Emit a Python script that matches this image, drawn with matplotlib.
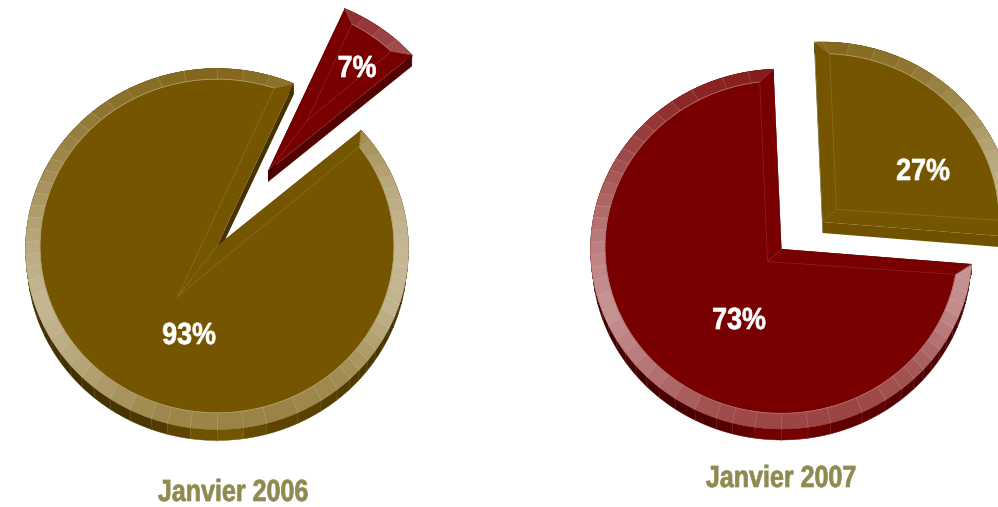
import numpy as np
import matplotlib
matplotlib.use("Agg")
import matplotlib.pyplot as plt
from matplotlib.colors import to_rgb
from matplotlib.patches import Polygon
from matplotlib.patheffects import AbstractPathEffect
from matplotlib.transforms import Affine2D

# share of the detached slice, then the rest of the pie
titles = ["Janvier 2006", "Janvier 2007"]
detached_share = [7, 27]
main_share = [93, 73]
detached_color = ["#780000", "#755500"]
main_color = ["#755500", "#780000"]

# layout, in pixels of the output image
centers = [(217, 249), (781.5, 249)]
radii = [(191.5, 180.5), (191, 180)]
start_angles = [41.2, -4.8]
explode = [(51, -75), (41, -27)]
apex_shift = [-3, 0]
arc_shift = [-3, -2]
detached_label_pos = [(357, 69), (923, 172)]
main_label_pos = [(189, 336), (739, 321)]
title_pos = [(233, 493), (781, 479)]

DEPTH = 11
BEVEL = 0.0757
TITLE_COLOR = "#8f8a50"
FONT = ["Liberation Sans", "DejaVu Sans"]

# how the rim and the side catch the light, by direction
rim_angles = [0, 20, 40, 60, 90, 120, 150, 180, 200, 225, 250, 270, 290, 315, 340, 360]
rim_light = [.58, .50, .33, .20, .10, .15, .30, .50, .58, .45, .30, .27, .27, .33, .55, .58]
side_angles = [0, 180, 210, 240, 255, 265, 275, 285, 300, 330, 360]
side_shade = [.55, .50, .55, .60, .72, .95, 1.0, .80, .75, .60, .55]

facets = [0, 4, 8, 12, 16, 20, 24, 28, 32, 37, 42, 48, 54, 60, 66, 74, 82, 90, 100, 108,
          118, 125, 131, 136, 141, 146, 150, 154, 158, 162, 166, 170, 174, 178, 182, 186,
          190, 195, 200, 205, 210, 215, 220, 225, 230, 236, 243, 250, 255, 262, 270, 278,
          285, 295, 303, 309, 314, 318, 322, 326, 330, 334, 338, 342, 346, 350, 354, 358]


class Squeeze(AbstractPathEffect):
    # narrows and thickens the glyphs, no condensed font is installed
    def __init__(self, sx, x0, stroke):
        super().__init__()
        self.sx = sx
        self.x0 = x0
        self.stroke = stroke

    def draw_path(self, renderer, gc, tpath, affine, rgbFace=None):
        squeeze = Affine2D().translate(-self.x0, 0).scale(self.sx, 1).translate(self.x0, 0)
        gc0 = renderer.new_gc()
        gc0.copy_properties(gc)
        gc0.set_foreground(rgbFace)
        gc0.set_linewidth(self.stroke)
        renderer.draw_path(gc0, tpath, affine + squeeze, rgbFace)
        gc0.restore()


def lighten(color, t):
    rgb = np.array(to_rgb(color))
    return tuple(rgb + (1 - rgb) * t)


def shade(color, f):
    return tuple(np.array(to_rgb(color)) * f)


def unit(deg):
    a = np.radians(deg)
    return np.array([np.cos(a), np.sin(a)])


def draw_slice(ax, share, color, start, idx, offset=(0, 0)):
    end = start + share * 3.6
    mid = (start + end) / 2
    half = np.radians(end - start) / 2
    cx = centers[idx][0] + offset[0]
    cy = centers[idx][1] + offset[1]
    rx, ry = radii[idx]
    down = np.array([0, DEPTH])

    def px(p):
        return np.array([cx + rx * p[0], cy - ry * p[1]])

    def px_arc(p):
        return px(p) + np.array([0, arc_shift[idx]])

    def px_apex(p):
        return px(p) + np.array([0, apex_shift[idx]])

    # inset apex of the bevel, then where the inset edges hit the inner circle
    apex = np.zeros(2)
    inner_apex = BEVEL / abs(np.sin(half)) * unit(mid)
    inner_r = 1 - BEVEL
    corners = []
    for ang in (start, end):
        d = unit(ang)
        b = inner_apex @ d
        t = -b + np.sqrt(b * b - inner_apex @ inner_apex + inner_r * inner_r)
        corners.append(inner_apex + t * d)
    phi1 = np.degrees(np.arctan2(corners[0][1], corners[0][0]))
    phi2 = np.degrees(np.arctan2(corners[1][1], corners[1][0]))
    while phi1 < start - 90:
        phi1 += 360
    while phi2 < phi1:
        phi2 += 360

    # cut faces, coloured by the way they point
    for ang, normal in ((start, start - 90), (end, end + 90)):
        c = np.interp(normal % 360, side_angles, side_shade)
        a0, a1 = px_apex(apex), px(unit(ang))
        ax.add_patch(Polygon([a0, a1, a1 + down, a0 + down], fc=shade(color, c), ec="none", zorder=ax.z))
        ax.z += 1

    extra = []
    for k in range(-1, 2):
        extra += [f + 360 * k for f in facets]
    edges = [start] + [f for f in extra if start < f < end] + [end]

    # outer side wall, slightly narrower at its foot
    for a, b in zip(edges[:-1], edges[1:]):
        arc = np.linspace(a, b, 8)
        top = np.array([px(unit(x)) for x in arc])
        low = np.array([px(unit(x) * [.992, 1]) for x in arc]) + down
        c = np.interp(((a + b) / 2) % 360, side_angles, side_shade)
        col = shade(color, c)
        ax.add_patch(Polygon(np.vstack([top, low[::-1]]), fc=col, ec=col, lw=.3, zorder=ax.z))
        ax.plot([low[0][0], top[0][0]], [low[0][1], top[0][1]], color=lighten(col, .15), lw=.4, zorder=ax.z)
    ax.z += 1

    # flat top, same colour as the slice up to the outer edge
    outer = np.array([px(unit(x)) for x in np.linspace(start, end, 200)])
    ax.add_patch(Polygon(np.vstack([px_apex(apex), outer]), fc=color, ec="none", zorder=ax.z))
    ax.z += 1

    # bevelled rim, one facet at a time, radial except for the mitred ends
    for a, b in zip(edges[:-1], edges[1:]):
        arc = np.linspace(a, b, 8)
        out = np.array([px(unit(x)) for x in arc])
        inn = np.array([px_arc(inner_r * unit(np.clip(x, phi1, phi2))) for x in arc])
        col = lighten(color, np.interp(((a + b) / 2) % 360, rim_angles, rim_light))
        ax.add_patch(Polygon(np.vstack([out, inn[::-1]]), fc=col, ec=col, lw=.3, zorder=ax.z))
        if a != start:
            ax.plot([out[0][0], inn[0][0]], [out[0][1], inn[0][1]], color=lighten(col, .25), lw=.4, zorder=ax.z)
    ax.z += 1

    # thin highlight lines on the top face
    arc = np.linspace(phi1, phi2, 200)
    rim_line = np.array([px_arc(inner_r * unit(x)) for x in arc])
    ax.plot(rim_line[:, 0], rim_line[:, 1], color=lighten(color, .45), lw=.6, zorder=ax.z)
    a0 = px_apex(inner_apex)
    for a1 in [px_arc(corners[0]), px_arc(corners[1]), px_apex(apex)]:
        ax.plot([a0[0], a1[0]], [a0[1], a1[1]], color=lighten(color, .15), lw=.5, zorder=ax.z)
    for p, q in zip([unit(start), unit(end)], corners):
        a0, a1 = px(p), px_arc(q)
        ax.plot([a0[0], a1[0]], [a0[1], a1[1]], color=lighten(color, .18), lw=.5, zorder=ax.z)
    ax.z += 1


fig = plt.figure(figsize=(9.98, 5.07), dpi=100)
ax = fig.add_axes([0, 0, 1, 1])
ax.set_xlim(0, 998)
ax.set_ylim(507, 0)
ax.axis("off")
ax.z = 2

for i in range(2):
    main_start = start_angles[i] + detached_share[i] * 3.6
    draw_slice(ax, main_share[i], main_color[i], main_start, i)
    draw_slice(ax, detached_share[i], detached_color[i], start_angles[i], i, explode[i])

    for pos, label in ((main_label_pos[i], f"{main_share[i]}%"), (detached_label_pos[i], f"{detached_share[i]}%")):
        t = ax.text(*pos, label, color="white", family=FONT, weight="bold",
                    fontsize=22, ha="center", va="center", zorder=500)
        t.set_path_effects([Squeeze(.88, pos[0], .5)])
    t = ax.text(*title_pos[i], titles[i], color=TITLE_COLOR, family=FONT, weight="bold",
                fontsize=22, ha="center", va="center", zorder=500)
    t.set_path_effects([Squeeze(.82, title_pos[i][0], .5)])

fig.savefig("out.png", dpi=100)
